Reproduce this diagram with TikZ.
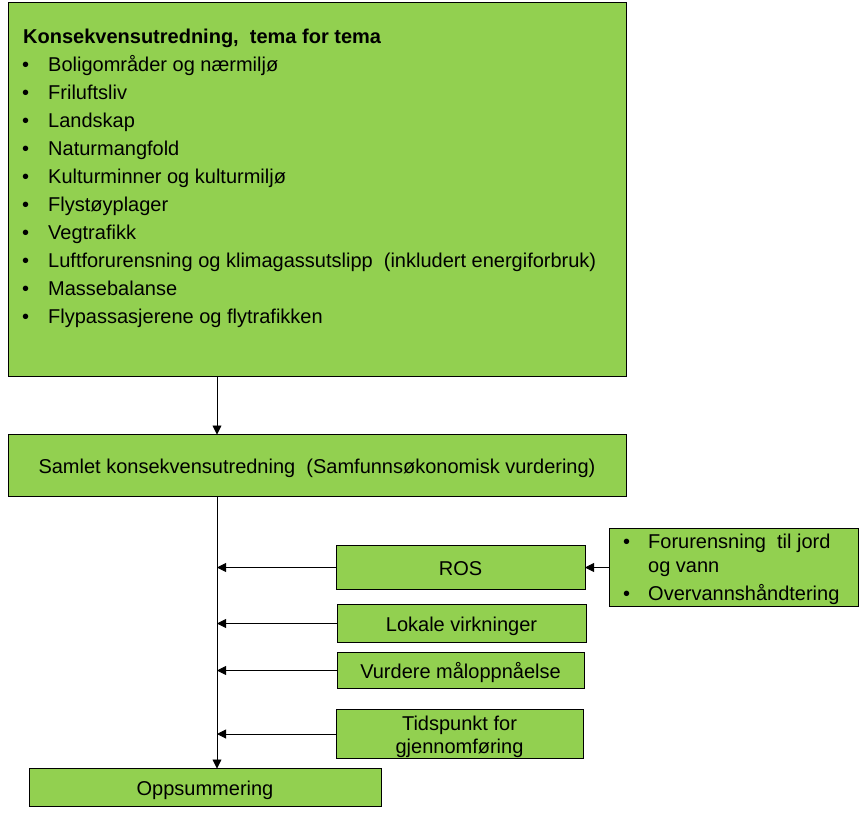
\documentclass[tikz,border=0pt]{standalone}
\usepackage{fontspec}
\setmainfont{Liberation Sans}
\usetikzlibrary{arrows.meta}
\definecolor{boxgreen}{HTML}{92D050}
\begin{document}
\begin{tikzpicture}[x=1pt,y=-1pt,
  box/.style={draw=black, line width=1pt, fill=boxgreen, inner sep=0pt, outer sep=0pt, anchor=north west, align=center, text height=15pt, text depth=0pt, font=\fontsize{20}{24}\selectfont},
  txt/.style={inner sep=0pt, anchor=base west, font=\fontsize{20}{24}\selectfont},
  arr/.style={draw=black, line width=0.9pt, -{Triangle[length=9pt,width=9pt]}}]
\useasboundingbox (0,0) rectangle (868,823);
% boxes
\node[box, minimum width=618pt, minimum height=374pt] (top) at (8,2.5) {};
\node[box, minimum width=618pt, minimum height=62pt] (samlet) at (8,434.5) {Samlet konsekvensutredning \ (Samfunnsøkonomisk vurdering)};
\node[box, minimum width=249pt, minimum height=44pt] (ros) at (336,545.5) {ROS};
\node[box, minimum width=249pt, minimum height=78pt] (right) at (609,528.5) {};
\node[box, minimum width=249pt, minimum height=38pt] (lokale) at (337,604.5) {Lokale virkninger};
\node[box, minimum width=247pt, minimum height=36pt] (vurdere) at (337,652.5) {Vurdere måloppnåelse};
\node[box, minimum width=247pt, minimum height=49pt] (tids) at (336,709.5) {};
\node[inner sep=0pt, anchor=base, align=center, font=\fontsize{20}{23}\selectfont] (tidstxt) at ([yshift=-43.5pt]tids.north) {Tidspunkt for\\gjennomføring};
\node[box, minimum width=352pt, minimum height=38pt] (opp) at (29,768.5) {Oppsummering};
% top box text
\node[txt, font=\fontsize{20}{24}\selectfont\bfseries] (head) at (23,43) {Konsekvensutredning, \ tema for tema};
\foreach \i/\t in {1/Boligområder og nærmiljø, 2/Friluftsliv, 3/Landskap, 4/Naturmangfold, 5/Kulturminner og kulturmiljø, 6/Flystøyplager, 7/Vegtrafikk, 8/Luftforurensning og klimagassutslipp \ (inkludert energiforbruk), 9/Massebalanse, 10/Flypassasjerene og flytrafikken}{
  \node[txt] (b\i) at (22,43+28*\i) {•};
  \node[txt] (t\i) at (48,43+28*\i) {\t};
}
% right box text
\node[txt] (rb1) at (623,548) {•};
\node[txt] (rt1) at (648,548) {Forurensning \ til jord};
\node[txt] (rt2) at (648,572) {og vann};
\node[txt] (rb2) at (623,600) {•};
\node[txt] (rt3) at (648,600) {Overvannshåndtering};
% connectors
\coordinate (trunk) at (217,0);
\draw[arr] (top.south -| trunk) -- (samlet.north -| trunk);
\draw[arr] (samlet.south -| trunk) -- (opp.north -| trunk);
\draw[arr] (ros.west) -- (ros.west -| trunk);
\draw[arr] (lokale.west) -- (lokale.west -| trunk);
\draw[arr] (vurdere.west) -- (vurdere.west -| trunk);
\draw[arr] (tids.west) -- (tids.west -| trunk);
\draw[arr] (right.west |- ros.west) -- (ros.east);
\end{tikzpicture}
\end{document}
